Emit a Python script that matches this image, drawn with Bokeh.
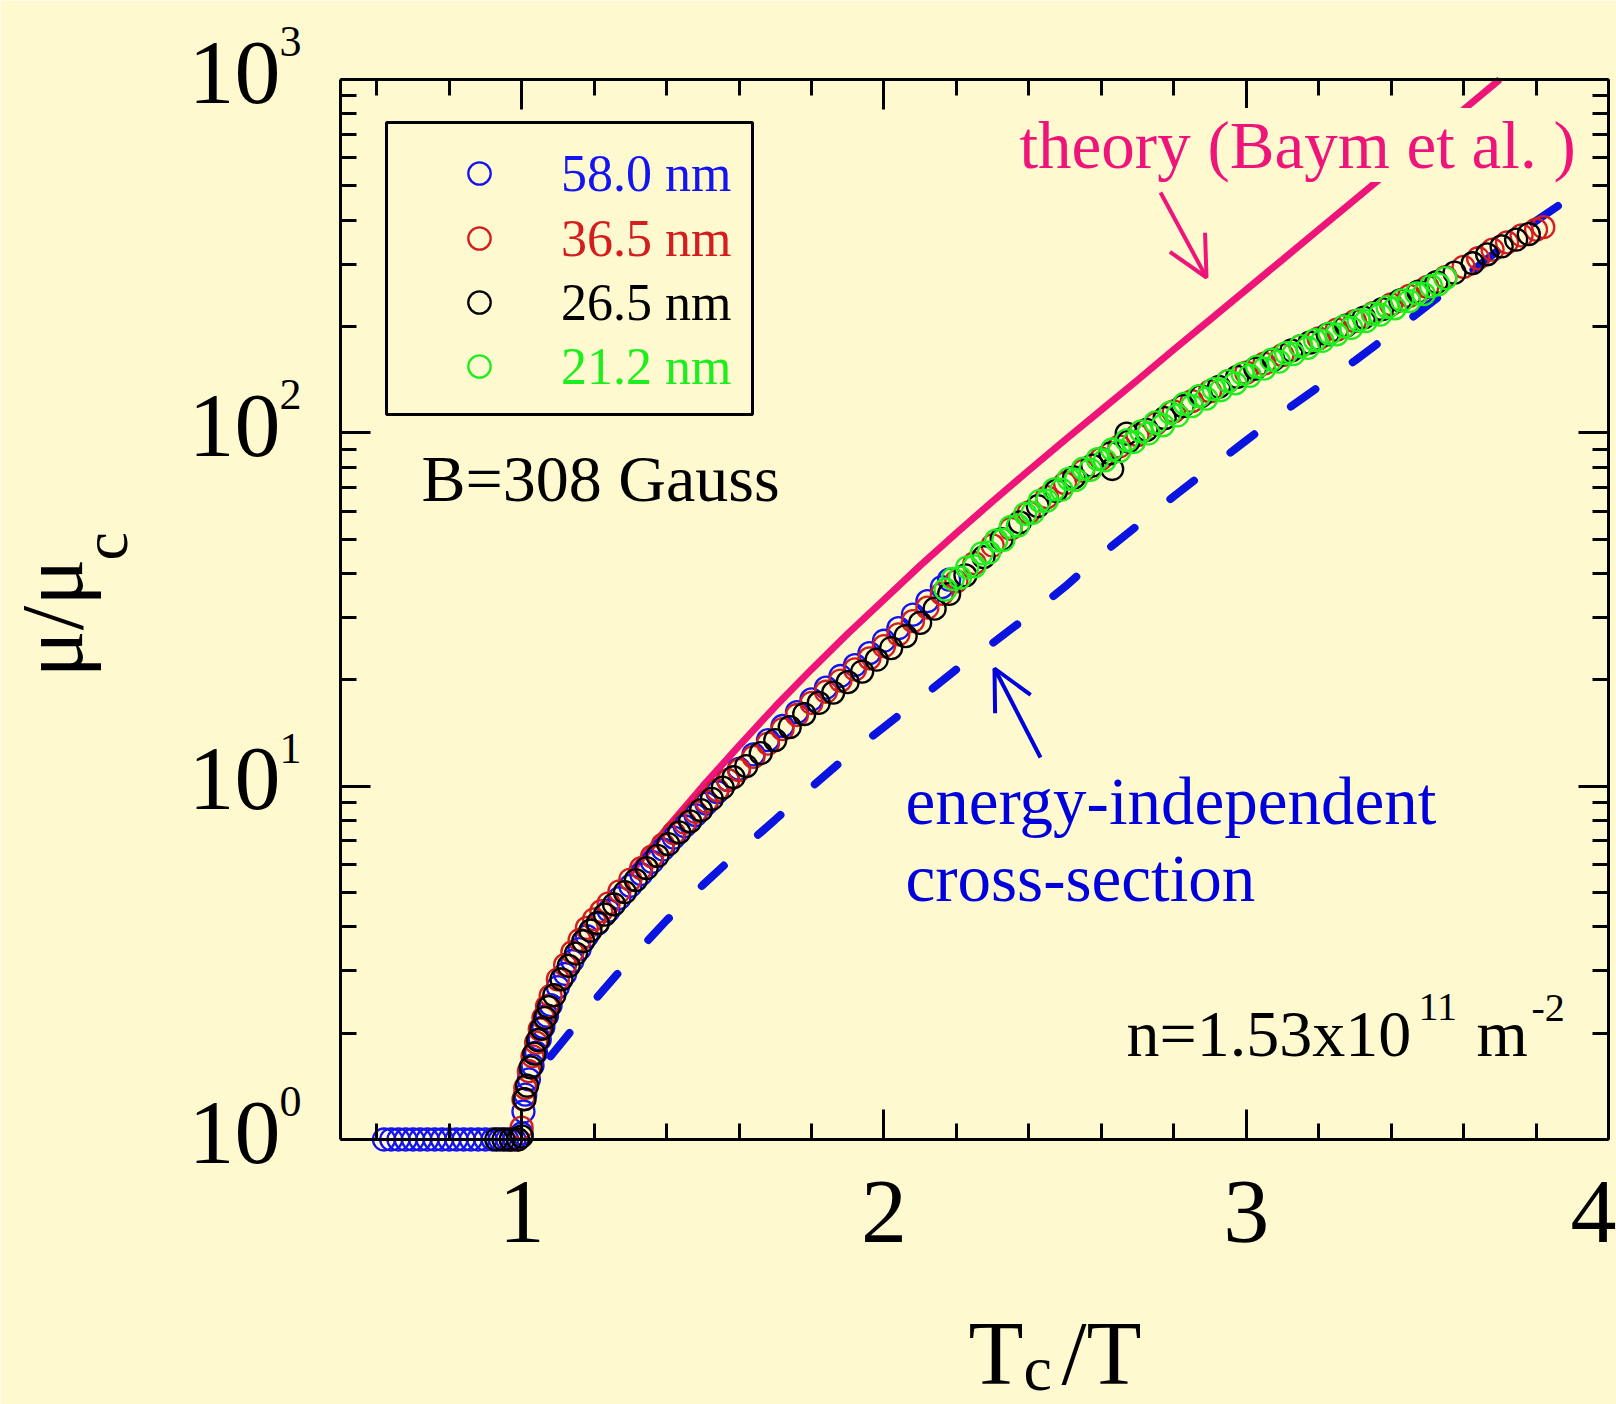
import math
from bokeh.plotting import figure
from bokeh.models import (FixedTicker, LinearAxis, LogAxis, Label, Legend, LegendItem,
                          BoxAnnotation, Arrow, OpenHead, Range1d, CustomJSTickFormatter)
from bokeh.embed import file_html
from bokeh.resources import INLINE

BG = "#FFF9D0"
FONT = "Liberation Serif"

# ---------------- data ----------------
X_LIM = (0.5, 4.0)
Y_LIM = (1, 1000)
X_MAJOR = [1, 2, 3, 4]
X_MINOR = [0.6, 0.8, 1.2, 1.4, 1.6, 1.8, 2.2, 2.4, 2.6, 2.8, 3.2, 3.4, 3.6, 3.8]
Y_MAJOR = [1, 10, 100, 1000]
Y_MINOR = [2, 3, 4, 5, 6, 7, 8, 9, 20, 30, 40, 50, 60, 70, 80, 90,
           200, 300, 400, 500, 600, 700, 800, 900]

LABELS = ["58.0 nm", "36.5 nm", "26.5 nm", "21.2 nm"]
COLORS = ["#1414F0", "#D21E1E", "#000000", "#1EEE1E"]

x_58 = [0.62, 0.64, 0.66, 0.68, 0.70, 0.72, 0.74, 0.76, 0.78, 0.80, 0.82, 0.84, 0.86,
        0.88, 0.90, 0.92, 0.94, 0.96, 0.98, 1.00, 1.005, 1.01, 1.02, 1.03, 1.04, 1.05,
        1.06, 1.07, 1.08, 1.10, 1.12, 1.14, 1.16, 1.18, 1.21, 1.24, 1.27, 1.30, 1.33,
        1.36, 1.39, 1.42, 1.45, 1.48, 1.51, 1.54, 1.57, 1.60, 1.64, 1.68, 1.72, 1.76,
        1.80, 1.84, 1.88, 1.92, 1.96, 2.00, 2.04, 2.08, 2.12, 2.16, 2.18]
y_58 = [1.0, 1.0, 1.0, 1.0, 1.0, 1.0, 1.0, 1.0, 1.0, 1.0, 1.0, 1.0, 1.0,
        1.0, 1.0, 1.0, 1.0, 1.0, 1.0, 1.04, 1.20, 1.34, 1.48, 1.62, 1.76, 1.92,
        2.08, 2.24, 2.40, 2.70, 2.94, 3.20, 3.46, 3.76, 4.08, 4.44, 4.82, 5.22, 5.64,
        6.10, 6.62, 7.15, 7.70, 8.28, 8.92, 9.62, 10.4, 11.2, 12.3, 13.5, 14.8, 16.2,
        17.6, 19.0, 20.5, 22.0, 23.8, 25.8, 28.0, 30.6, 33.4, 36.6, 38.4]

x_365 = [0.97, 0.99, 1.00, 1.005, 1.01, 1.02, 1.03, 1.04, 1.05, 1.06, 1.07, 1.08, 1.10,
         1.12, 1.14, 1.16, 1.18, 1.20, 1.22, 1.24, 1.27, 1.30, 1.33, 1.36, 1.39, 1.42,
         1.45, 1.48, 1.51, 1.54, 1.57, 1.60, 1.64, 1.68, 1.72, 1.76, 1.80, 1.84, 1.88,
         1.92, 1.96, 2.00, 2.04, 2.08, 2.12, 2.16, 2.20, 2.25, 2.30, 2.35, 2.40, 2.45,
         2.50, 2.55, 2.60, 2.65, 2.70, 2.75, 2.80, 2.85, 2.90, 2.95, 3.00, 3.05, 3.10,
         3.15, 3.20, 3.25, 3.30, 3.35, 3.40, 3.45, 3.50, 3.55, 3.60, 3.64, 3.68, 3.72,
         3.76, 3.80, 3.82]
y_365 = [1.0, 1.0, 1.08, 1.30, 1.40, 1.56, 1.72, 1.88, 2.05, 2.21, 2.38, 2.55, 2.84,
         3.12, 3.39, 3.67, 3.97, 4.20, 4.43, 4.66, 5.04, 5.44, 5.86, 6.33, 6.83, 7.36,
         7.88, 8.45, 9.05, 9.75, 10.4, 11.1, 12.1, 13.2, 14.5, 15.9, 17.2, 18.5, 19.9,
         21.4, 23.0, 24.9, 26.9, 29.3, 32.0, 35.0, 38.0, 42.8, 48.0, 53.5, 59.5, 65.8,
         72.0, 78.0, 84.5, 91.5, 98.5, 106, 115, 123, 131, 140, 148, 157, 166,
         176, 185, 196, 207, 218, 231, 244, 259, 276, 295, 312, 330, 346,
         362, 376, 382]

x_265 = [0.93, 0.95, 0.97, 0.99, 1.00, 1.008, 1.015, 1.025, 1.035, 1.045, 1.055, 1.065,
         1.075, 1.09, 1.11, 1.13, 1.15, 1.17, 1.19, 1.21, 1.23, 1.255, 1.285, 1.315,
         1.345, 1.375, 1.405, 1.435, 1.465, 1.495, 1.525, 1.555, 1.585, 1.62, 1.66,
         1.70, 1.74, 1.78, 1.82, 1.86, 1.90, 1.94, 1.98, 2.02, 2.06, 2.10, 2.14, 2.18,
         2.225, 2.275, 2.325, 2.375, 2.425, 2.475, 2.525, 2.575, 2.625, 2.63, 2.67,
         2.675, 2.725, 2.775, 2.825, 2.875, 2.925, 2.975, 3.025, 3.075, 3.125, 3.175,
         3.225, 3.275, 3.325, 3.375, 3.425, 3.475, 3.525, 3.575, 3.625, 3.665, 3.705,
         3.745, 3.78]
y_265 = [1.0, 1.0, 1.0, 1.0, 1.02, 1.30, 1.42, 1.60, 1.75, 1.91, 2.06, 2.21,
         2.37, 2.56, 2.84, 3.10, 3.36, 3.64, 3.90, 4.10, 4.33, 4.63, 5.01, 5.42,
         5.86, 6.35, 6.85, 7.40, 7.95, 8.55, 9.2, 9.9, 10.6, 11.4, 12.4,
         13.5, 14.7, 16.0, 17.2, 18.4, 19.7, 21.1, 22.8, 24.6, 26.6, 29.0, 31.8, 35.0,
         39.5, 44.5, 50.0, 55.8, 62.0, 68.5, 74.8, 80.8, 87.5, 79.0, 99.5,
         94.5, 102, 110, 119, 127, 135, 144, 152, 161, 171, 180,
         190, 201, 212, 224, 237, 251, 267, 284, 302, 320, 337,
         352, 365]

x_212 = [2.17, 2.19, 2.21, 2.23, 2.25, 2.27, 2.29, 2.31, 2.33, 2.35, 2.37, 2.39, 2.41,
         2.43, 2.45, 2.47, 2.49, 2.51, 2.53, 2.55, 2.57, 2.59, 2.61, 2.63, 2.65, 2.67,
         2.69, 2.71, 2.73, 2.75, 2.77, 2.79, 2.81, 2.83, 2.85, 2.87, 2.89, 2.91, 2.93,
         2.95, 2.97, 2.99, 3.01, 3.03, 3.05, 3.07, 3.09, 3.11, 3.13, 3.15, 3.17, 3.19,
         3.21, 3.23, 3.25, 3.27, 3.29, 3.31, 3.33, 3.35, 3.37, 3.39, 3.41, 3.43, 3.45,
         3.47, 3.49, 3.51, 3.53, 3.55]
y_212 = [36.0, 38.6, 38.9, 41.6, 41.9, 45.6, 45.8, 49.6, 49.8, 54.2, 54.6, 59.0, 59.3,
         64.2, 64.3, 69.2, 69.0, 74.1, 73.6, 79.2, 78.6, 84.3, 83.6, 89.7, 88.8, 95.2,
         94.2, 101, 99.6, 107, 105, 114, 112, 121, 119, 127, 125, 133, 132,
         140, 138, 147, 145, 154, 152, 161, 159, 168, 167, 176, 174, 183,
         182, 191, 190, 200, 198, 208, 207, 217, 216, 227, 225, 237, 236,
         248, 247, 260, 263, 274]

x_theory = [1.30, 1.40, 1.50, 1.60, 1.70, 1.80, 1.90, 2.00, 2.10, 2.20, 2.30, 2.40, 2.50,
            2.60, 2.70, 2.80, 2.90, 3.00, 3.10, 3.20, 3.30, 3.40, 3.50, 3.60, 3.70]
y_theory = [5.69, 7.59, 10.0, 13.0, 16.8, 21.4, 27.0, 33.7, 42.1, 52.0, 64.0, 78.3, 95.5,
            116, 141, 172, 209, 254, 309, 376, 457, 556, 676, 822, 1000]

x_cross = [1.08, 1.15, 1.20, 1.30, 1.40, 1.50, 1.60, 1.70, 1.80, 1.90, 2.00, 2.10, 2.20,
           2.30, 2.40, 2.50, 2.60, 2.70, 2.80, 2.90, 3.00, 3.10, 3.20, 3.30, 3.40, 3.50,
           3.60, 3.70, 3.80, 3.93]
y_cross = [1.72, 2.11, 2.47, 3.24, 4.17, 5.25, 6.53, 8.04, 9.93, 12.2, 14.7, 17.7, 21.4,
           25.4, 30.4, 36.7, 45.2, 54.7, 66.1, 79.4, 95.1, 114, 135, 160, 191, 229,
           275, 331, 398, 490]

SERIES = [(x_58, y_58), (x_365, y_365), (x_265, y_265), (x_212, y_212)]

PINK = "#EE1479"
DBLUE = "#0A14E0"
TBLUE = "#0000DC"

# ---------------- layout (pixels) ----------------
W, H = 1616, 1404
FL, FR, FT, FB = 340, 1608, 79, 1139          # where the axes box sits
XS = (FR - FL) / (X_LIM[1] - X_LIM[0])        # px per x unit
YS = (FB - FT) / (math.log10(Y_LIM[1]) - math.log10(Y_LIM[0]))  # px per decade


def px_x(px):
    return X_LIM[0] + (px - FL) / XS


def px_y(py):
    return 10 ** (math.log10(Y_LIM[0]) + (FB - py) / YS)


# the frame fills the whole canvas; the axes are pinned to the box edges
p = figure(width=W, height=H, title=None,
           x_range=Range1d(px_x(0), px_x(W)), y_range=Range1d(px_y(H), px_y(0)),
           y_axis_type="log", output_backend="svg", toolbar_location=None,
           min_border=0, min_border_left=0, min_border_right=0,
           min_border_top=0, min_border_bottom=0)
p.background_fill_color = BG
p.border_fill_color = BG
p.outline_line_color = None
p.xgrid.visible = False
p.ygrid.visible = False

EMPTY = "return ''"


def style(ax):
    ax.axis_line_width = 3
    ax.axis_line_color = "black"
    ax.major_tick_line_width = 3
    ax.minor_tick_line_width = 3
    ax.major_tick_line_color = "black"
    ax.minor_tick_line_color = "black"
    ax.major_tick_in = 30
    ax.major_tick_out = 0
    ax.minor_tick_in = 16
    ax.minor_tick_out = 0
    ax.major_label_text_font = FONT
    ax.major_label_text_color = "black"


xa = p.xaxis[0]
xa.ticker = FixedTicker(ticks=X_MAJOR, minor_ticks=X_MINOR)
xa.fixed_location = Y_LIM[0]
xa.bounds = X_LIM
style(xa)
xa.major_label_text_font_size = "92px"
xa.major_label_standoff = 42

ya = p.yaxis[0]
ya.ticker = FixedTicker(ticks=Y_MAJOR, minor_ticks=Y_MINOR)
ya.fixed_location = X_LIM[0]
ya.bounds = Y_LIM
ya.formatter = CustomJSTickFormatter(code=EMPTY)
style(ya)
ya.major_label_standoff = 0

top_ax = LinearAxis(ticker=FixedTicker(ticks=X_MAJOR, minor_ticks=X_MINOR),
                    formatter=CustomJSTickFormatter(code=EMPTY),
                    fixed_location=Y_LIM[1], bounds=X_LIM)
style(top_ax)
top_ax.major_label_standoff = 0
p.add_layout(top_ax, "above")

right_ax = LogAxis(ticker=FixedTicker(ticks=Y_MAJOR, minor_ticks=Y_MINOR),
                   formatter=CustomJSTickFormatter(code=EMPTY),
                   fixed_location=X_LIM[1], bounds=Y_LIM)
style(right_ax)
right_ax.major_label_standoff = 0
p.add_layout(right_ax, "right")

# y tick labels: "10" with a raised exponent
for v in Y_MAJOR:
    e = int(round(math.log10(v)))
    p.add_layout(Label(x=X_LIM[0], y=v, text="10", text_font=FONT, text_font_size="92px",
                       text_color="black", text_align="right", text_baseline="middle",
                       x_offset=-60, y_offset=7))
    p.add_layout(Label(x=X_LIM[0], y=v, text=str(e), text_font=FONT, text_font_size="44px",
                       text_color="black", text_align="left", text_baseline="middle",
                       x_offset=-61, y_offset=38))

# curves (under the data)
p.line(x_cross, y_cross, line_color=DBLUE, line_width=8, line_dash="30 46", line_cap="round")
p.line(x_theory, y_theory, line_color=PINK, line_width=7)

renderers = []
for (xs, ys), col in zip(SERIES, COLORS):
    r = p.scatter(xs, ys, marker="circle", size=22, fill_color=None,
                  line_color=col, line_width=2.3)
    renderers.append(r)

# legend: one small legend per entry so that each text has its own colour
ROW_Y = [173, 238, 302, 366]
for r, lab_, col, ry in zip(renderers, LABELS, COLORS, ROW_Y):
    lg = Legend(items=[LegendItem(label=lab_, renderers=[r])], location=(451, H - (ry + 31)),
                glyph_width=56, glyph_height=62, label_standoff=54, padding=0, margin=0,
                spacing=0, border_line_color=None, background_fill_alpha=0,
                label_text_font=FONT, label_text_font_size="52px", label_text_color=col)
    p.add_layout(lg, "center")

p.add_layout(BoxAnnotation(left=px_x(386), right=px_x(752), bottom=px_y(414), top=px_y(122),
                           fill_alpha=0, line_color="black", line_alpha=1.0, line_width=3))


def lab(text, left, base, size, color="black", **kw):
    """left: x pixel of text start, base: y pixel of its baseline."""
    p.add_layout(Label(x=px_x(left), y=px_y(base - 0.3375 * size), text=text,
                       text_font=FONT, text_font_size=f"{size}px", text_color=color,
                       text_baseline="middle", text_align="left", **kw))


lab("B=308 Gauss", 421, 500, 66)
lab("theory (Baym et al. )", 1019, 167, 67, PINK, background_fill_color=BG)
lab("energy-independent", 905, 823, 67, TBLUE)
lab("cross-section", 905, 900, 67, TBLUE)
lab("n=1.53x10", 1126, 1055, 66)
lab("11", 1418, 1020, 40)
lab("m", 1476, 1055, 66)
lab("-2", 1531, 1021, 40)

# axis titles
lab("T", 968, 1383, 90)
lab("c", 1023, 1390, 64)
lab("/T", 1061, 1383, 90)


def vlab(text, base_x, start_y, size):
    """rotated text reading upwards; base_x: x pixel of its baseline, start_y: y pixel of its start."""
    p.add_layout(Label(x=px_x(base_x - 0.3375 * size), y=px_y(start_y), text=text,
                       text_font=FONT, text_font_size=f"{size}px", text_color="black",
                       text_baseline="middle", text_align="left", angle=math.pi / 2))


vlab("\u03bc/\u03bc", 82, 677, 88)
vlab("c", 127, 560, 64)

p.add_layout(Arrow(end=OpenHead(size=40, line_color=PINK, line_width=4),
                   x_start=px_x(1160), y_start=px_y(192), x_end=px_x(1206), y_end=px_y(277),
                   line_color=PINK, line_width=4))
p.add_layout(Arrow(end=OpenHead(size=40, line_color=TBLUE, line_width=4),
                   x_start=px_x(1040), y_start=px_y(757), x_end=px_x(994), y_end=px_y(668),
                   line_color=TBLUE, line_width=4))

open("out.html", "w").write(file_html(p, INLINE))
